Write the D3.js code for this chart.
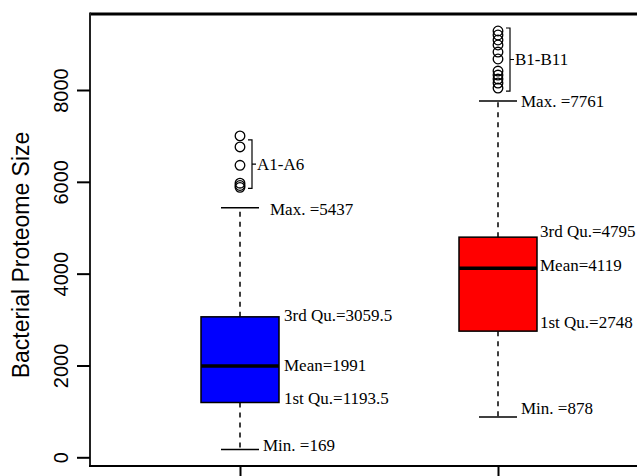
<!DOCTYPE html>
<html><head><meta charset="utf-8">
<script src="https://cdn.jsdelivr.net/npm/d3@7"></script>
<style>body{margin:0;background:#fff}svg{display:block}</style>
</head><body>
<script>
const categories = ["A", "B"];
const minVals = [169, 878];
const q1Vals = [1193.5, 2748];
const meanVals = [1991, 4119];
const q3Vals = [3059.5, 4795];
const maxVals = [5437, 7761];
const outliersA = [7000, 6760, 6360, 5970, 5920, 5880];
const outliersB = [9285, 9198, 9089, 8980, 8827, 8675, 8413, 8326, 8239, 8152, 8043];
const outlierLabels = ["A1-A6", "B1-B11"];
const yTicks = [0, 2000, 4000, 6000, 8000];
const yTitle = "Bacterial Proteome Size";
const colors = ["#0000ff", "#ff0000"];

(function () {
const W = 637, H = 476;
const svg = d3.select("body").append("svg").attr("width", W).attr("height", H);
const y = d3.scaleLinear().domain([0, 8000]).range([457.3, 90]);
const x = d3.scalePoint().domain(categories).range([240, 498]);
const pLeft = 90, pTop = 14, pBottom = 466;
const boxW = 78, capW = 38;
const serif = "'Liberation Serif', 'Times New Roman', serif";
const sans = "'Liberation Sans', Arial, Helvetica, sans-serif";
const bracketPad = [[4, 1], [-3, 3]];

svg.append("line").attr("x1", pLeft).attr("x2", W).attr("y1", pTop).attr("y2", pTop).attr("stroke", "#000").attr("stroke-width", 3);
svg.append("line").attr("x1", pLeft).attr("x2", pLeft).attr("y1", pTop - 1.5).attr("y2", pBottom).attr("stroke", "#222").attr("stroke-width", 2);
svg.append("line").attr("x1", pLeft - 1).attr("x2", W).attr("y1", pBottom).attr("y2", pBottom).attr("stroke", "#000").attr("stroke-width", 2);

const yAxis = d3.axisLeft(y).tickValues(yTicks).tickSize(13).tickFormat(d3.format("d"));
const gy = svg.append("g").attr("transform", `translate(${pLeft},0)`).call(yAxis);
gy.select(".domain").remove();
gy.selectAll(".tick line").attr("stroke", "#000").attr("stroke-width", 2);
gy.selectAll(".tick text")
  .attr("x", 0).attr("dy", null)
  .attr("transform", "translate(-29,0) rotate(-90)")
  .attr("text-anchor", "middle").attr("dominant-baseline", "central")
  .style("font-family", sans).style("font-size", "20px").attr("fill", "#000");

const xAxis = d3.axisBottom(x).tickSize(10).tickFormat("");
const gx = svg.append("g").attr("transform", `translate(0,${pBottom})`).call(xAxis);
gx.select(".domain").remove();
gx.selectAll(".tick line").attr("stroke", "#000").attr("stroke-width", 2);

svg.append("text").attr("transform", `translate(21,255) rotate(-90)`)
  .attr("text-anchor", "middle").attr("dominant-baseline", "central")
  .style("font-family", sans).style("font-size", "23px").text(yTitle);

const outliers = [outliersA, outliersB];
categories.forEach((c, i) => {
  const cx = x(c);
  const g = svg.append("g");
  g.append("line").attr("x1", cx).attr("x2", cx).attr("y1", y(q3Vals[i])).attr("y2", y(maxVals[i]))
    .attr("stroke", "#000").attr("stroke-width", 1.5).attr("stroke-dasharray", "5,5");
  g.append("line").attr("x1", cx).attr("x2", cx).attr("y1", y(q1Vals[i])).attr("y2", y(minVals[i]))
    .attr("stroke", "#000").attr("stroke-width", 1.5).attr("stroke-dasharray", "5,5");
  [maxVals[i], minVals[i]].forEach(v => {
    g.append("line").attr("x1", cx - capW / 2).attr("x2", cx + capW / 2).attr("y1", y(v)).attr("y2", y(v))
      .attr("stroke", "#000").attr("stroke-width", 1.5);
  });
  g.append("rect").attr("x", cx - boxW / 2).attr("width", boxW)
    .attr("y", y(q3Vals[i])).attr("height", y(q1Vals[i]) - y(q3Vals[i]))
    .attr("fill", colors[i]).attr("stroke", "#000").attr("stroke-width", 1.5);
  g.append("line").attr("x1", cx - boxW / 2).attr("x2", cx + boxW / 2)
    .attr("y1", y(meanVals[i])).attr("y2", y(meanVals[i])).attr("stroke", "#000").attr("stroke-width", 3.5);
  g.selectAll("circle.o").data(outliers[i]).join("circle").attr("class", "o")
    .attr("cx", cx).attr("cy", d => y(d)).attr("r", 4.8)
    .attr("fill", "none").attr("stroke", "#000").attr("stroke-width", 1.3);
  const oy = outliers[i].map(y);
  const bt = d3.min(oy) + bracketPad[i][0], bb = d3.max(oy) + bracketPad[i][1], bx = cx + 12;
  const bm = (bt + bb) / 2;
  g.append("path").attr("d", `M${bx - 4},${bt}H${bx}V${bb}H${bx - 4}M${bx},${bm}H${bx + 4}`)
    .attr("fill", "none").attr("stroke", "#000").attr("stroke-width", 1.2);
  g.append("text").attr("x", bx + 5).attr("y", bm).attr("dominant-baseline", "central")
    .style("font-family", serif).style("font-size", "17px").text(outlierLabels[i]);
});

function lab(xp, yp, t) {
  svg.append("text").attr("x", xp).attr("y", yp).attr("dominant-baseline", "central")
    .style("font-family", serif).style("font-size", "17px").attr("fill", "#000").text(t);
}
const fmt = v => String(v);
lab(x("A") + capW / 2 + 11, y(maxVals[0]) + 2, "Max. =" + fmt(maxVals[0]));
lab(x("A") + boxW / 2 + 5, y(q3Vals[0]) - 1, "3rd Qu.=" + fmt(q3Vals[0]));
lab(x("A") + boxW / 2 + 5, y(meanVals[0]), "Mean=" + fmt(meanVals[0]));
lab(x("A") + boxW / 2 + 5, y(q1Vals[0]) - 4, "1st Qu.=" + fmt(q1Vals[0]));
lab(x("A") + capW / 2 + 4, y(minVals[0]) - 4, "Min. =" + fmt(minVals[0]));
lab(x("B") + capW / 2 + 4, y(maxVals[1]) + 1, "Max. =" + fmt(maxVals[1]));
lab(x("B") + boxW / 2 + 3, y(q3Vals[1]) - 6, "3rd Qu.=" + fmt(q3Vals[1]));
lab(x("B") + boxW / 2 + 3, y(meanVals[1]) - 3, "Mean=" + fmt(meanVals[1]));
lab(x("B") + boxW / 2 + 3, y(q1Vals[1]) - 9, "1st Qu.=" + fmt(q1Vals[1]));
lab(x("B") + capW / 2 + 4, y(minVals[1]) - 8, "Min. =" + fmt(minVals[1]));
})();
</script>
</body></html>
